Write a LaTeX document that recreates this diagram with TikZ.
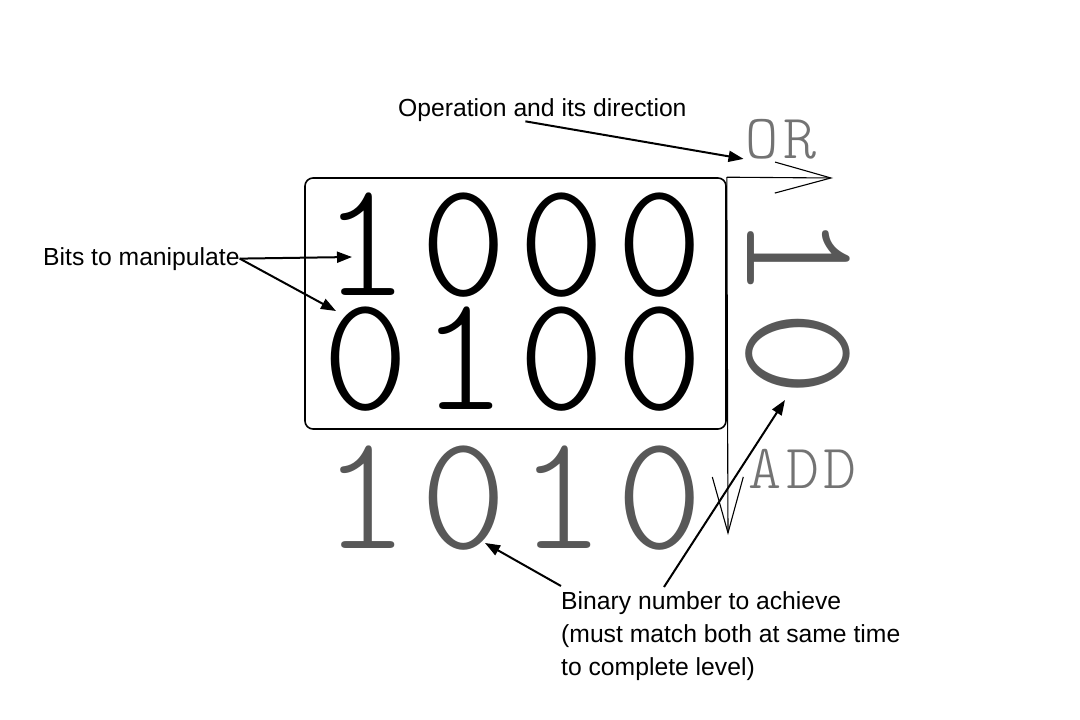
\documentclass[tikz,border=0pt]{standalone}
\usepackage{fontspec}
\setmainfont{Liberation Sans}
\newfontfamily\bitfont[LetterSpace=7]{lmmonolt10-regular.otf}
\usetikzlibrary{arrows.meta}

\definecolor{goalGray}{RGB}{88,88,88}
\definecolor{opGray}{RGB}{115,115,115}

\begin{document}
\begin{tikzpicture}[%
    x=1pt, y=-1pt,
    board/.style={%
        draw,
        rounded corners=8pt,
        line width=1.6pt,
        minimum width=421pt,
        minimum height=251pt
    },
    bitRow/.style={%
        inner sep=0pt,
        anchor=base,
        font=\bitfont\fontsize{165}{165}\selectfont
    },
    goalRow/.style={%
        bitRow,
        text=goalGray
    },
    opName/.style={%
        inner sep=0pt,
        anchor=base,
        text=opGray,
        font=\bitfont\fontsize{63}{63}\selectfont
    },
    note/.style={%
        inner sep=0pt,
        anchor=base west,
        align=left,
        font=\fontsize{24.7}{33}\selectfont
    },
    pointer/.style={%
        ->,
        line width=2pt
    },
    direction/.style={%
        line width=1.1pt,
        -{Straight Barb[length=56pt,width=31pt]}
    },
    >={Triangle[length=15pt,width=11pt]}
]

\useasboundingbox (0,0) rectangle (1080,720);

% Board with the two rows of bits
    \node[board] (bitBoard) at (515.5,303.5) {};
    \node[bitRow] (rowA) at (513,295) {1000};
    \node[bitRow] (rowB) at (513,409) {0100};

% Target numbers
    \node[goalRow] (rowGoal) at (513,548) {1010};
    \node[goalRow, rotate=-90] (colGoal) at (747,305) {10};

% Operations
    \node[opName] (orName) at (781,158) {OR};
    \node[opName] (addName) at (803,488) {ADD};
    \coordinate (orTip) at (833,178);
    \coordinate (addTip) at (728,535);

% Notes
    \node[note] (opNote) at (398,116) {Operation and its direction};
    \node[note] (bitsNote) at (43,265) {Bits to manipulate};
    \node[note, anchor=north west] (goalNote) at (561,591) {Binary number to achieve\\(must match both at same time\\to complete level)};

    \coordinate (bitTipA) at (352,257);
    \coordinate (bitTipB) at (336,311);
    \coordinate (goalTipA) at (485,543);
    \coordinate (goalTipB) at (785,400);

% Arrows
\draw[direction] (bitBoard.north east) -- (orTip);
\draw[direction] (bitBoard.north east) -- (addTip);

\draw[pointer] ([xshift=-17pt]opNote.south) -- ([xshift=-2pt]orName.south west);

\draw[pointer] (bitsNote.east) -- (bitTipA);
\draw[pointer] (bitsNote.east) -- (bitTipB);

\draw[pointer] ([yshift=5pt]goalNote.north west) -- (goalTipA);
\draw[pointer] ([xshift=103pt, yshift=4pt]goalNote.north west) -- (goalTipB);

\end{tikzpicture}
\end{document}
